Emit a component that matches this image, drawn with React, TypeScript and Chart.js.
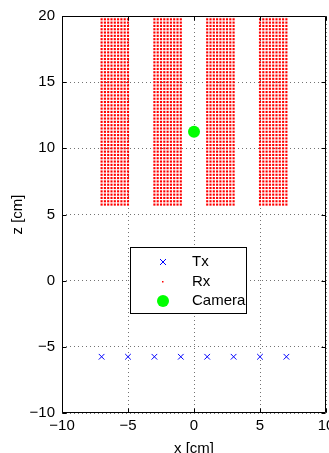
import React, { useEffect, useRef } from 'react';
import { Chart, registerables } from 'chart.js';
Chart.register(...registerables);

const xTickValues = [-10, -5, 0, 5, 10];
const zTickValues = [-10, -5, 0, 5, 10, 15, 20];

const txX = [-7, -5, -3, -1, 1, 3, 5, 7];
const txZ = [-5.75, -5.75, -5.75, -5.75, -5.75, -5.75, -5.75, -5.75];

const rxX = [
  -7, -6.75, -6.5, -6.25, -6, -5.75, -5.5, -5.25, -5,
  -3, -2.75, -2.5, -2.25, -2, -1.75, -1.5, -1.25, -1,
  1, 1.25, 1.5, 1.75, 2, 2.25, 2.5, 2.75, 3,
  5, 5.25, 5.5, 5.75, 6, 6.25, 6.5, 6.75, 7,
];
const rxZ = [
  5.75, 6, 6.25, 6.5, 6.75, 7, 7.25, 7.5, 7.75, 8, 8.25, 8.5, 8.75, 9, 9.25, 9.5, 9.75,
  10, 10.25, 10.5, 10.75, 11, 11.25, 11.5, 11.75, 12, 12.25, 12.5, 12.75, 13, 13.25, 13.5, 13.75,
  14, 14.25, 14.5, 14.75, 15, 15.25, 15.5, 15.75, 16, 16.25, 16.5, 16.75, 17, 17.25, 17.5, 17.75,
  18, 18.25, 18.5, 18.75, 19, 19.25, 19.5, 19.75, 20,
];

const cameraX = [0];
const cameraZ = [11.25];

const legendLabels = ['Tx', 'Rx', 'Camera'];

const FONT = "'Liberation Sans', Arial, sans-serif";

const fmt = (v: number) => (v < 0 ? '\u2212' + Math.abs(v) : String(v));

const framePlugin = {
  id: 'frame',
  afterDraw(chart: any) {
    const { ctx, chartArea: a, scales } = chart;
    ctx.save();
    ctx.strokeStyle = '#000';
    ctx.lineWidth = 1;
    ctx.setLineDash([]);
    ctx.beginPath();
    const L = Math.round(a.left) + 0.5, R = Math.round(a.right) - 0.5;
    const T = Math.round(a.top) + 0.5, B = Math.round(a.bottom) - 0.5;
    ctx.rect(L, T, R - L, B - T);
    const tl = 4;
    xTickValues.forEach((v) => {
      const px = Math.round(scales.x.getPixelForValue(v)) + 0.5;
      ctx.moveTo(px, B); ctx.lineTo(px, B - tl);
      ctx.moveTo(px, T); ctx.lineTo(px, T + tl);
    });
    zTickValues.forEach((v) => {
      const py = Math.round(scales.y.getPixelForValue(v)) + 0.5;
      ctx.moveTo(L, py); ctx.lineTo(L + tl, py);
      ctx.moveTo(R, py); ctx.lineTo(R - tl, py);
    });
    ctx.stroke();

    // legend
    const bx = 130.5, by = 247.5, bw = 116, bh = 66;
    ctx.fillStyle = '#fff';
    ctx.fillRect(bx, by, bw, bh);
    ctx.strokeRect(bx, by, bw, bh);
    const mx = 163, tx = 192;
    const rows = [262, 282, 301];
    ctx.strokeStyle = '#0000ff';
    ctx.lineWidth = 1;
    ctx.beginPath();
    ctx.moveTo(mx - 3, rows[0] - 3); ctx.lineTo(mx + 3, rows[0] + 3);
    ctx.moveTo(mx + 3, rows[0] - 3); ctx.lineTo(mx - 3, rows[0] + 3);
    ctx.stroke();
    ctx.fillStyle = '#ff0000';
    ctx.fillRect(mx - 1, rows[1] - 1, 1.5, 1.5);
    ctx.fillStyle = '#00ff00';
    ctx.beginPath();
    ctx.arc(mx, rows[2], 6, 0, Math.PI * 2);
    ctx.fill();
    ctx.fillStyle = '#000';
    ctx.font = `15px ${FONT}`;
    ctx.textBaseline = 'middle';
    ctx.textAlign = 'left';
    legendLabels.forEach((l, i) => ctx.fillText(l, tx, rows[i]));
    ctx.restore();
  },
};

export default function App() {
  const ref = useRef<HTMLCanvasElement | null>(null);
  useEffect(() => {
    if (!ref.current) return;
    const rxData: { x: number; y: number }[] = [];
    rxX.forEach((x) => rxZ.forEach((y) => rxData.push({ x, y })));
    const chart = new Chart(ref.current, {
      type: 'scatter',
      data: {
        datasets: [
          {
            label: legendLabels[0],
            data: txX.map((x, i) => ({ x, y: txZ[i] })),
            pointStyle: 'crossRot',
            pointRadius: 4,
            borderColor: '#0000ff',
            backgroundColor: '#0000ff',
            borderWidth: 1,
            order: 1,
          },
          {
            label: legendLabels[1],
            data: rxData,
            pointStyle: 'rect',
            pointRadius: 1.5,
            borderWidth: 0,
            borderColor: '#ff0000',
            backgroundColor: '#ff0000',
            order: 2,
          },
          {
            label: legendLabels[2],
            data: cameraX.map((x, i) => ({ x, y: cameraZ[i] })),
            pointStyle: 'circle',
            pointRadius: 6,
            borderWidth: 0,
            backgroundColor: '#00ff00',
            borderColor: '#00ff00',
            order: 0,
          },
        ],
      },
      options: {
        animation: false,
        responsive: true,
        maintainAspectRatio: false,
        layout: { autoPadding: false, padding: { top: 16, right: 3, left: 0, bottom: 0 } },
        plugins: { legend: { display: false }, tooltip: { enabled: false } },
        scales: {
          x: {
            type: 'linear',
            min: -10,
            max: 10,
            afterBuildTicks: (s: any) => { s.ticks = xTickValues.map((v) => ({ value: v })); },
            afterFit: (s: any) => { s.height = 40; s.paddingLeft = 0; s.paddingRight = 0; },
            ticks: { callback: (v: any) => fmt(Number(v)), color: '#000', font: { family: FONT, size: 15 }, padding: 4, maxRotation: 0, autoSkip: false },
            grid: { color: 'rgba(0,0,0,0.55)', drawTicks: false, lineWidth: 1 },
            border: { display: false, dash: [1, 3] },
            title: { display: true, text: 'x [cm]', color: '#000', font: { family: FONT, size: 15 }, padding: { top: 0, bottom: -5 } },
          },
          y: {
            type: 'linear',
            min: -10,
            max: 20,
            afterBuildTicks: (s: any) => { s.ticks = zTickValues.map((v) => ({ value: v })); },
            afterFit: (s: any) => { s.width = 62; s.paddingTop = 0; s.paddingBottom = 0; },
            ticks: { callback: (v: any) => fmt(Number(v)), color: '#000', font: { family: FONT, size: 15 }, padding: 7, autoSkip: false },
            grid: { color: 'rgba(0,0,0,0.55)', drawTicks: false, lineWidth: 1 },
            border: { display: false, dash: [1, 3] },
            title: { display: true, text: 'z [cm]', color: '#000', font: { family: FONT, size: 15 }, padding: { top: 9, bottom: 0 } },
          },
        },
      },
      plugins: [framePlugin],
    });
    return () => chart.destroy();
  }, []);
  return (
    <div style={{ position: 'fixed', left: 0, top: 0, width: 329, height: 453, background: '#fff' }}>
      <canvas ref={ref} />
    </div>
  );
}
